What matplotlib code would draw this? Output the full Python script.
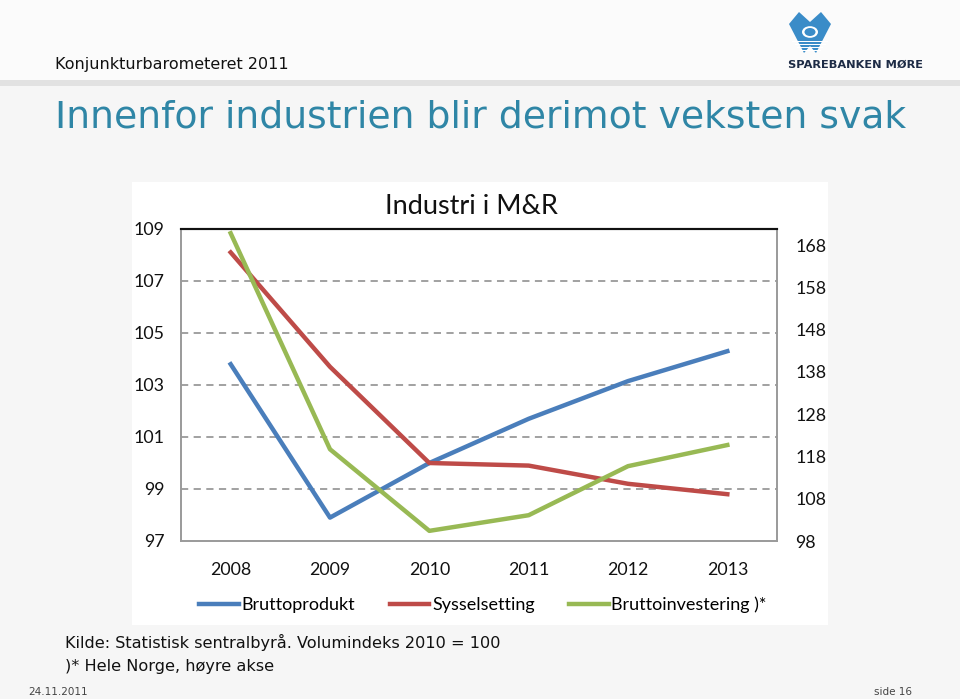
import matplotlib
matplotlib.use("Agg")
import matplotlib.pyplot as plt
from matplotlib.patches import Rectangle, Polygon, Circle

# data
years = ["2008", "2009", "2010", "2011", "2012", "2013"]
bruttoprodukt = [103.8, 97.9, 100.0, 101.7, 103.15, 104.3]
sysselsetting = [108.1, 103.7, 100.0, 99.9, 99.2, 98.8]
bruttoinvestering = [170.8, 119.7, 100.4, 104.1, 115.7, 120.7]   # right axis
left_ticks = [97, 99, 101, 103, 105, 107, 109]
right_ticks = [98, 108, 118, 128, 138, 148, 158, 168]

W, H = 960, 699
BLUE = "#4a7ebb"
RED = "#be4b48"
GREEN = "#98b954"
TEAL = "#2f86a6"
CHART_FONT = ["Lato", "DejaVu Sans"]


def fx(x):
    return x / W


def fy(y):
    return 1 - y / H


def fig_rect(x0, y0, x1, y1, color, z=-1):
    fig.patches.append(Rectangle((fx(x0), fy(y1)), fx(x1) - fx(x0), fy(y0) - fy(y1),
                                 transform=fig.transFigure, facecolor=color,
                                 edgecolor="none", zorder=z))


fig = plt.figure(figsize=(W / 100, H / 100), dpi=100)
fig.patch.set_facecolor("#f6f6f6")

# header band, shadow line, white chart area
fig_rect(0, 0, W, 80, "#fbfbfb")
fig_rect(0, 80, W, 86, "#e2e2e2")
fig_rect(132, 182, 828, 625, "white")

fig.text(fx(55), fy(65), "Konjunkturbarometeret 2011", fontsize=11.5,
         family="DejaVu Sans", color="#111111", va="center")
fig.text(fx(55), fy(117), "Innenfor industrien blir derimot veksten svak", fontsize=27.2,
         family="DejaVu Sans", color=TEAL, va="center")

# simple logo
lx, ly = 810, 12
logo = Polygon([(fx(lx - 21), fy(ly + 12)), (fx(lx - 11), fy(ly)), (fx(lx), fy(ly + 10)),
                (fx(lx + 11), fy(ly)), (fx(lx + 21), fy(ly + 12)), (fx(lx + 6), fy(ly + 41)),
                (fx(lx), fy(ly + 34)), (fx(lx - 6), fy(ly + 41))],
               closed=True, transform=fig.transFigure, facecolor="#3a8cc8",
               edgecolor="none", zorder=2)
fig.patches.append(logo)
for k in range(4):
    yy = ly + 29 + k * 3
    fig_rect(lx - 18 + k * 2.5, yy, lx + 18 - k * 2.5, yy + 1.2, "white", z=3)
fig.patches.append(Circle((fx(lx), fy(ly + 20)), 8 / W, transform=fig.transFigure,
                          facecolor="white", edgecolor="none", zorder=3))
fig.patches.append(Circle((fx(lx), fy(ly + 20)), 5.5 / W, transform=fig.transFigure,
                          facecolor="#3a8cc8", edgecolor="none", zorder=4))
fig.text(fx(856), fy(65), "SPAREBANKEN MØRE", fontsize=8.2, fontweight="bold",
         family="DejaVu Sans", color="#1d2b45", ha="center", va="center")

# chart
ax = fig.add_axes([fx(181), fy(541), fx(777) - fx(181), fy(229) - fy(541)])
ax2 = ax.twinx()
x = list(range(len(years)))

ax.plot(x, bruttoprodukt, color=BLUE, lw=3.2, label="Bruttoprodukt", zorder=3)
ax.plot(x, sysselsetting, color=RED, lw=3.2, label="Sysselsetting", zorder=3)
ax2.plot(x, bruttoinvestering, color=GREEN, lw=3.2, label="Bruttoinvestering )*", zorder=3)

ax.set_xlim(-0.5, len(years) - 0.5)
ax.set_ylim(97, 109)
ax2.set_ylim(98, 171.8)
ax.set_yticks(left_ticks)
ax2.set_yticks(right_ticks)
ax.set_xticks(x)
ax.set_xticklabels(years)

for a in (ax, ax2):
    a.set_facecolor("none")
    a.tick_params(length=0, labelsize=12.8, colors="#111111")
    for lab in a.get_xticklabels() + a.get_yticklabels():
        lab.set_family(CHART_FONT)
    for s in a.spines.values():
        s.set_color("#9a9a9a")
        s.set_linewidth(1.2)
    a.spines["top"].set_color("#111111")
    a.spines["top"].set_linewidth(1.5)

ax.tick_params(axis="x", pad=15)
ax.tick_params(axis="y", pad=12)
ax2.tick_params(axis="y", pad=13)

for v in left_ticks[1:-1]:
    ax.axhline(v, color="#9a9a9a", lw=1.3, ls=(0, (4, 3)), zorder=1)

fig.text(fx(471), fy(207), "Industri i M&R", fontsize=19.5, family=CHART_FONT,
         color="#111111", ha="center", va="center")

handles = ax.get_lines()[:2] + ax2.get_lines()[:1]
leg = fig.legend(handles, [h.get_label() for h in handles], loc="center",
                 bbox_to_anchor=(fx(483), fy(605)), ncol=3, frameon=False,
                 handlelength=2.2, columnspacing=1.9, handletextpad=0.15,
                 prop={"family": CHART_FONT, "size": 13})

fig.text(fx(65), fy(642), "Kilde: Statistisk sentralbyrå. Volumindeks 2010 = 100",
         fontsize=11.6, family="DejaVu Sans", color="#111111", va="center")
fig.text(fx(65), fy(666), ")* Hele Norge, høyre akse",
         fontsize=11.6, family="DejaVu Sans", color="#111111", va="center")
fig.text(fx(28), fy(692), "24.11.2011", fontsize=7.5, family="DejaVu Sans",
         color="#444444", va="center")
fig.text(fx(912), fy(692), "side 16", fontsize=7.5, family="DejaVu Sans",
         color="#444444", va="center", ha="right")

fig.savefig("out.png", dpi=100, facecolor=fig.get_facecolor())
